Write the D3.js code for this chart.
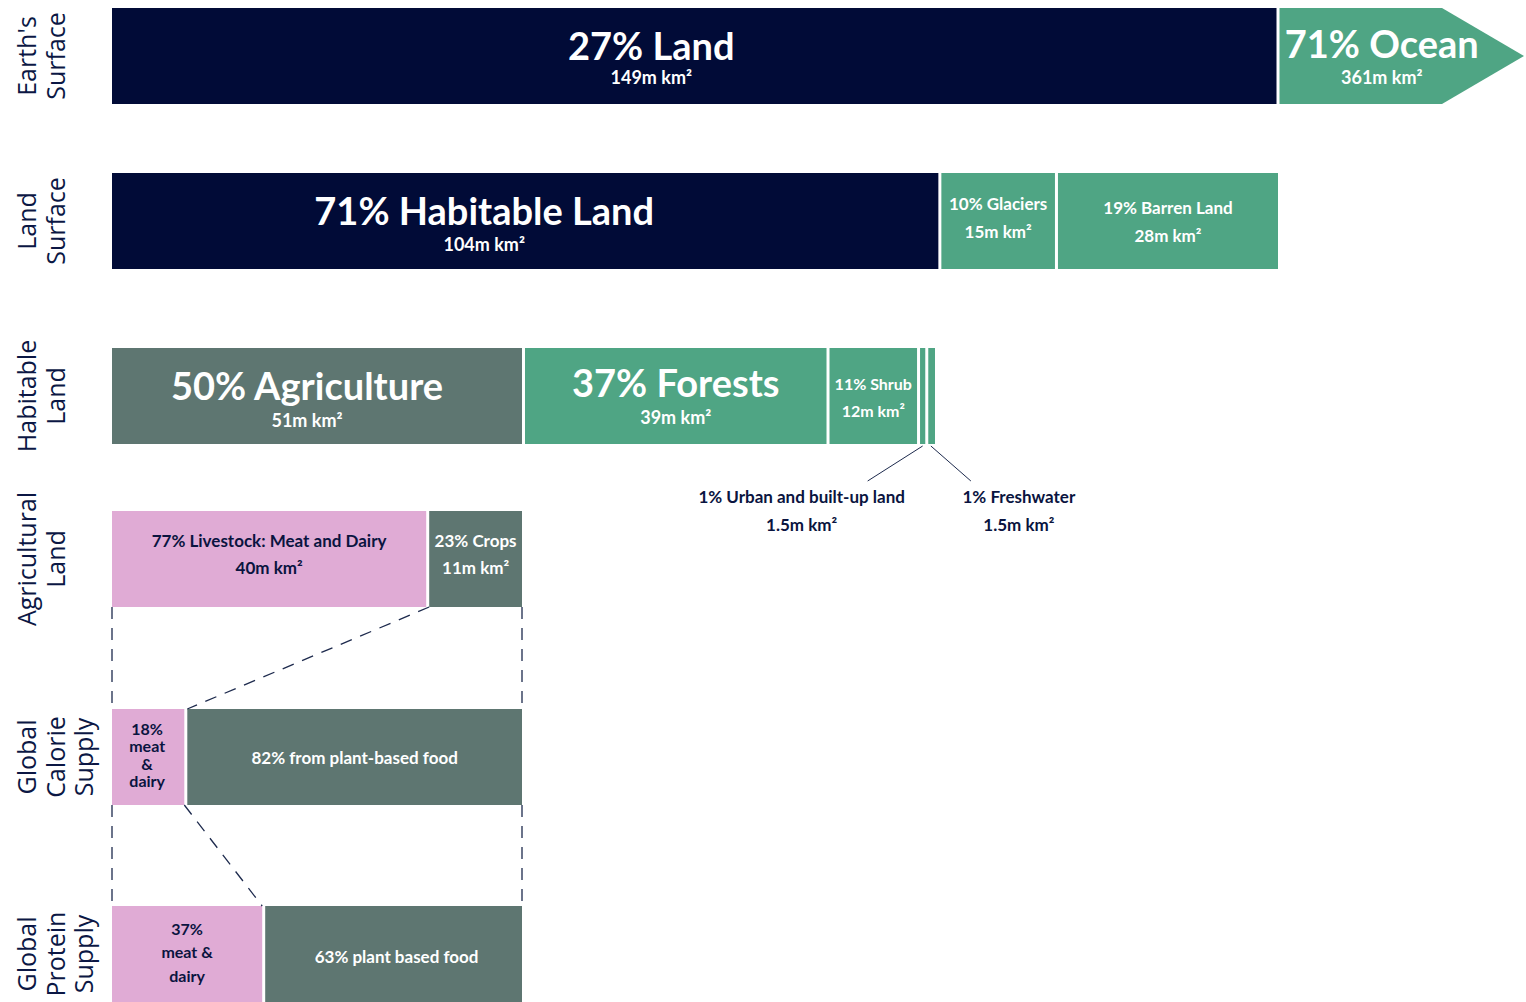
<!DOCTYPE html>
<html>
<head>
<meta charset="utf-8">
<script src="https://cdn.jsdelivr.net/npm/d3@7"></script>
<style>
  body { margin: 0; background: #fff; }
  svg { display: block; }
  .row-label { font-family: "Open Sans", sans-serif; font-size: 25px; fill: #0b1744; }
  .bar-text { font-family: Lato, sans-serif; font-weight: 700; }
</style>
</head>
<body>
<svg id="land-use" width="1526" height="1002"></svg>
<script>
// ---- data ----
const rowLabels = [
  ["Earth's", "Surface"],
  ["Land", "Surface"],
  ["Habitable", "Land"],
  ["Agricultural", "Land"],
  ["Global", "Calorie", "Supply"],
  ["Global", "Protein", "Supply"]
];

const earthSurface = [
  { key: 'land', lines: ['27% Land', '149m km²'], value: 27 },
  { key: 'ocean', lines: ['71% Ocean', '361m km²'], value: 71 }
];

const landSurface = [
  { key: 'habitable', lines: ['71% Habitable Land', '104m km²'], value: 71 },
  { key: 'glaciers', lines: ['10% Glaciers', '15m km²'], value: 10 },
  { key: 'barren', lines: ['19% Barren Land', '28m km²'], value: 19 }
];

const habitableLand = [
  { key: 'agriculture', lines: ['50% Agriculture', '51m km²'], value: 50 },
  { key: 'forests', lines: ['37% Forests', '39m km²'], value: 37 },
  { key: 'shrub', lines: ['11% Shrub', '12m km²'], value: 11 },
  { key: 'urban', lines: ['1% Urban and built-up land', '1.5m km²'], value: 1 },
  { key: 'freshwater', lines: ['1% Freshwater', '1.5m km²'], value: 1 }
];

const agriculturalLand = [
  { key: 'livestock', lines: ['77% Livestock: Meat and Dairy', '40m km²'], value: 77 },
  { key: 'crops', lines: ['23% Crops', '11m km²'], value: 23 }
];

const calorieSupply = [
  { key: 'calMeat', lines: ['18%', 'meat', '&', 'dairy'], value: 18 },
  { key: 'calPlant', lines: ['82% from plant-based food'], value: 82 }
];

const proteinSupply = [
  { key: 'protMeat', lines: ['37%', 'meat &', 'dairy'], value: 37 },
  { key: 'protPlant', lines: ['63% plant based food'], value: 63 }
];

// ---- styling / layout ----
const navy = '#010b37', green = '#4fa584', grey = '#5e7671', pink = '#e0abd5';
const textNavy = '#0a1440';

const barH = 96, gap = 3;
const rowTop = [8, 173, 348, 511, 709, 906];
const left = 112, landRight = 1278, habRight = 935;

// per-segment look: fill, text colour, font sizes, baselines (from bar top), label dx
const style = {
  land:        { fill: navy,  color: '#fff', sizes: [38, 18], base: [52, 76], dx: -43 },
  ocean:       { fill: green, color: '#fff', sizes: [38, 18], base: [50, 76] },
  habitable:   { fill: navy,  color: '#fff', sizes: [38, 18], base: [52, 78], dx: -41 },
  glaciers:    { fill: green, color: '#fff', sizes: [17, 17], base: [37, 65] },
  barren:      { fill: green, color: '#fff', sizes: [17, 17], base: [41, 69] },
  agriculture: { fill: grey,  color: '#fff', sizes: [38, 18], base: [52, 79], dx: -10 },
  forests:     { fill: green, color: '#fff', sizes: [38, 18], base: [49, 76] },
  shrub:       { fill: green, color: '#fff', sizes: [16, 16], base: [42, 69] },
  urban:       { fill: green, outside: true, dx: -121 },
  freshwater:  { fill: green, outside: true, dx: 88 },
  livestock:   { fill: pink,  color: textNavy, sizes: [17, 17], base: [36, 63] },
  crops:       { fill: grey,  color: '#fff', sizes: [17, 17], base: [36, 63] },
  calMeat:     { fill: pink,  color: textNavy, sizes: [16, 16, 16, 16], base: [26, 43, 61, 78], dx: -1 },
  calPlant:    { fill: grey,  color: '#fff', sizes: [17], base: [55] },
  protMeat:    { fill: pink,  color: textNavy, sizes: [16, 16, 16], base: [29, 52, 76] },
  protPlant:   { fill: grey,  color: '#fff', sizes: [17], base: [57], dx: 3 }
};

const svg = d3.select('#land-use');

// row titles (rotated, one line per word)
rowLabels.forEach((lines, i) => {
  const cy = rowTop[i] + barH / 2;
  const lh = 28.5;
  const t = svg.append('text')
    .attr('class', 'row-label')
    .attr('transform', `translate(36,${cy}) rotate(-90)`)
    .attr('text-anchor', 'middle');
  lines.forEach((l, j) => {
    t.append('tspan').attr('x', 0).attr('y', j * lh).text(l);
  });
});

function stack(data) {
  let acc = 0;
  return data.map(d => {
    const s = { ...d, x0: acc, x1: acc + d.value };
    acc += d.value;
    return s;
  });
}

function drawLabel(g, d, cx, top, st) {
  d.lines.forEach((l, j) => {
    g.append('text')
      .attr('class', 'bar-text')
      .attr('x', cx)
      .attr('y', top + st.base[j])
      .attr('text-anchor', 'middle')
      .attr('fill', st.color)
      .attr('font-size', st.sizes[j])
      .text(l);
  });
}

function drawRow(data, x, rowIdx, opts = {}) {
  const top = rowTop[rowIdx];
  const segs = stack(data);
  const g = svg.append('g');
  segs.forEach((d, i) => {
    const st = style[d.key];
    const isLast = i === segs.length - 1;
    const xa = x(d.x0) + (i > 0 ? gap / 2 : 0);
    const xb = x(d.x1) - (isLast ? 0 : gap / 2);
    if (opts.arrowKey === d.key) return;
    g.append('rect')
      .attr('x', xa).attr('y', top)
      .attr('width', xb - xa).attr('height', barH)
      .attr('fill', st.fill);
    if (!st.outside) drawLabel(g, d, (xa + xb) / 2 + (st.dx || 0), top, st);
  });
  return segs;
}

// row 1: earth's surface (ocean runs off as an arrow)
const x1 = d3.scaleLinear().domain([0, 27]).range([left, landRight]);
const earthSegs = drawRow(earthSurface, x1, 0, { arrowKey: 'ocean' });
{
  const top = rowTop[0], bot = top + barH, mid = top + barH / 2;
  const xa = x1(27) + gap / 2, xr = 1442, tip = 1524;
  svg.append('path')
    .attr('d', d3.line()([[xa, top], [xr, top], [tip, mid], [xr, bot], [xa, bot]]) + 'Z')
    .attr('fill', style.ocean.fill);
  drawLabel(svg, earthSegs[1], (xa + xr) / 2 + 21, top, style.ocean);
}

// row 2: land surface
const x2 = d3.scaleLinear().domain([0, 100]).range([left, landRight]);
drawRow(landSurface, x2, 1);

// row 3: habitable land
const x3 = d3.scaleLinear().domain([0, 100]).range([left, habRight]);
const habSegs = drawRow(habitableLand, x3, 2);
{
  const bot = rowTop[2] + barH;
  habSegs.filter(d => style[d.key].outside).forEach(d => {
    const st = style[d.key];
    const cx = x3((d.x0 + d.x1) / 2);
    const lx = cx + (st.dx < 0 ? -55 : 40);
    svg.append('line')
      .attr('x1', cx).attr('y1', bot + 2)
      .attr('x2', lx).attr('y2', bot + 37)
      .attr('stroke', '#1d2a4d').attr('stroke-width', 1);
    d.lines.forEach((l, j) => {
      svg.append('text')
        .attr('class', 'bar-text')
        .attr('x', cx + st.dx)
        .attr('y', bot + 59 + j * 28)
        .attr('text-anchor', 'middle')
        .attr('fill', textNavy)
        .attr('font-size', 17)
        .text(l);
    });
  });
}

// rows 4-6 span the agriculture segment of row 3
const xA = d3.scaleLinear().domain([0, 100]).range([left, x3(50) - gap / 2]);
drawRow(agriculturalLand, xA, 3);
drawRow(calorieSupply, xA, 4);
drawRow(proteinSupply, xA, 5);

// dashed connectors between the food rows
function connectors(upper, lower, diagFrom, diagTo) {
  const y0 = rowTop[upper] + barH, y1 = rowTop[lower];
  const segs = [
    [[xA(0), y0], [xA(0), y1]],
    [[xA(100), y0], [xA(100), y1]],
    [[diagFrom, y0], [diagTo, y1]]
  ];
  svg.append('g').selectAll('line').data(segs).enter().append('line')
    .attr('x1', d => d[0][0]).attr('y1', d => d[0][1])
    .attr('x2', d => d[1][0]).attr('y2', d => d[1][1])
    .attr('stroke', '#1d2a4d')
    .attr('stroke-width', 1.3)
    .attr('stroke-dasharray', '12,9');
}
connectors(3, 4, xA(77) + gap / 2, xA(18) + gap / 2);
connectors(4, 5, xA(18) - gap / 2, xA(37) - gap / 2);
</script>
</body>
</html>
